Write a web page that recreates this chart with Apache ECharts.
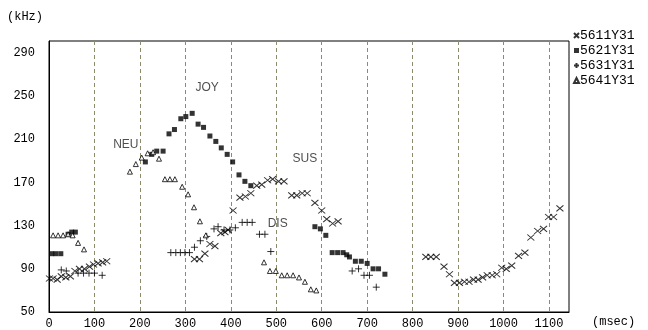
<!DOCTYPE html>
<html>
<head>
<meta charset="utf-8">
<script src="https://cdn.jsdelivr.net/npm/echarts@6/dist/echarts.min.js"></script>
<style>
  html, body { margin: 0; padding: 0; background: #fff; }
  #chart { width: 648px; height: 330px; }
</style>
</head>
<body>
<div id="chart"></div>
<script>
// [msec, kHz]
const s5611 = [
  [1, 81], [9, 81], [18, 80], [27, 83], [37, 82], [47, 83], [57, 88], [67, 90], [78, 90],
  [89, 92], [98, 94], [108, 95], [118, 96], [127, 97],
  [320, 99], [331, 99], [343, 104], [354, 113], [365, 111], [378, 123], [387, 124], [394, 126],
  [405, 144], [420, 156], [432, 157], [444, 160], [457, 167], [468, 168], [481, 172], [492, 173],
  [505, 171], [517, 171], [534, 158], [545, 158], [557, 160], [568, 160], [585, 151], [600, 144],
  [611, 136], [624, 132], [636, 134],
  [829, 101], [840, 101], [852, 101], [869, 92], [881, 85], [892, 77], [903, 77], [914, 78],
  [924, 78], [934, 80], [944, 80], [954, 82], [964, 84], [975, 84], [985, 85], [996, 91],
  [1006, 90], [1018, 93], [1033, 102], [1047, 105], [1060, 119], [1075, 125], [1088, 127],
  [1099, 138], [1110, 138], [1124, 146]
]
const s5621 = [
  [6, 104], [15, 104], [26, 104], [42, 122], [50, 124], [58, 124],
  [212, 189], [226, 196], [237, 199], [251, 199], [264, 215], [276, 219], [290, 229], [301, 231],
  [315, 234], [328, 224], [340, 221], [354, 213], [367, 208], [379, 202], [392, 196], [404, 189],
  [418, 177], [431, 171], [444, 167],
  [585, 129], [597, 127], [609, 121], [623, 105], [635, 105], [647, 105], [655, 103], [661, 101],
  [674, 97], [687, 97], [700, 95], [713, 90], [725, 90], [739, 85]
]
const s5631 = [
  [27, 89], [38, 88], [64, 86], [76, 86], [88, 86], [100, 86], [117, 84],
  [268, 105], [279, 105], [289, 105], [299, 105], [309, 105], [320, 110], [333, 116], [347, 120],
  [363, 127], [372, 129], [385, 126], [398, 126], [410, 128], [425, 133], [436, 133], [447, 133],
  [463, 122], [475, 122], [488, 106],
  [667, 88], [681, 90], [693, 84], [705, 84], [720, 73]
]
const s5641 = [
  [9, 121], [20, 121], [31, 121], [42, 122], [52, 121], [64, 114], [77, 108],
  [178, 180], [191, 187], [204, 193], [217, 197], [229, 198], [242, 192], [255, 173], [266, 173],
  [277, 173], [293, 166], [306, 159], [319, 147], [332, 134], [345, 121],
  [473, 96], [486, 88], [499, 88], [512, 84], [524, 84], [537, 84], [550, 82], [563, 78],
  [576, 71], [588, 70]
]
const seriesNames = ['5611Y31', '5621Y31', '5631Y31', '5641Y31']
const emotionLabels = [
  { name: 'NEU', value: [169, 205] },
  { name: 'JOY', value: [348, 258] },
  { name: 'SUS', value: [563, 192] },
  { name: 'DIS', value: [503, 132] }
]
const xTicks = [0, 100, 200, 300, 400, 500, 600, 700, 800, 900, 1000, 1100]
const yTicks = [50, 90, 130, 170, 210, 250, 290]

const tickFont = 'Liberation Mono'
const crossPath = 'path://M0 0L8 8M8 0L0 8'
const plusPath = 'path://M4 0L4 8M0 4L8 4'
const strokeOnly = { color: 'rgba(0,0,0,0)', borderColor: '#000', borderWidth: 1 }

const chart = echarts.init(document.getElementById('chart'))
const option = {
  animation: false,
  backgroundColor: '#fff',
  grid: { left: 49, right: 79, top: 41, bottom: 18, show: true, borderColor: '#000', borderWidth: 1 },
  legend: {
    data: seriesNames,
    orient: 'vertical',
    left: 568,
    top: 24,
    itemWidth: 5,
    itemHeight: 5,
    itemGap: 2,
    selectedMode: false,
    textStyle: { fontFamily: tickFont, fontSize: 13, color: '#000', lineHeight: 13, padding: [0, 0, 0, -4] }
  },
  xAxis: {
    type: 'value',
    min: 0,
    max: 1144,
    interval: 100,
    axisLine: { show: true, lineStyle: { color: '#000' } },
    axisTick: { show: false },
    axisLabel: {
      margin: 6, color: '#000', fontFamily: tickFont, fontSize: 12, showMaxLabel: false,
      formatter: v => xTicks.includes(v) ? String(v) : ''
    },
    splitLine: { show: true, showMinLine: false, showMaxLine: false, lineStyle: { color: '#8c8c6c', type: [4, 3], width: 1 } }
  },
  yAxis: {
    type: 'value',
    min: 50,
    max: 301,
    interval: 40,
    axisLine: { show: true, lineStyle: { color: '#000' } },
    axisTick: { show: false },
    axisLabel: {
      margin: 14, color: '#000', fontFamily: tickFont, fontSize: 12, showMaxLabel: false,
      formatter: v => yTicks.includes(v) ? String(v) : ''
    },
    splitLine: { show: false }
  },
  graphic: [
    { type: 'text', left: 7, top: 11, style: { text: '(kHz)', font: '12px "Liberation Mono"', fill: '#000' } },
    { type: 'text', left: 592, top: 316, style: { text: '(msec)', font: '12px "Liberation Mono"', fill: '#000' } }
  ],
  series: [
    { name: seriesNames[0], type: 'scatter', data: s5611, symbol: crossPath, symbolSize: [7, 6], itemStyle: strokeOnly },
    { name: seriesNames[1], type: 'scatter', data: s5621, symbol: 'rect', symbolSize: 5, itemStyle: { color: '#000' } },
    { name: seriesNames[2], type: 'scatter', data: s5631, symbol: plusPath, symbolSize: 7, itemStyle: strokeOnly },
    { name: seriesNames[3], type: 'scatter', data: s5641, symbol: 'triangle', symbolSize: 5, itemStyle: { color: '#fff', borderColor: '#000', borderWidth: 1 } },
    {
      name: 'labels', type: 'scatter', data: emotionLabels, symbolSize: 0, silent: true,
      label: { show: true, position: 'inside', formatter: p => p.name, color: '#222', fontFamily: 'Liberation Sans', fontSize: 12 }
    }
  ]
}
chart.setOption(option)
</script>
</body>
</html>
